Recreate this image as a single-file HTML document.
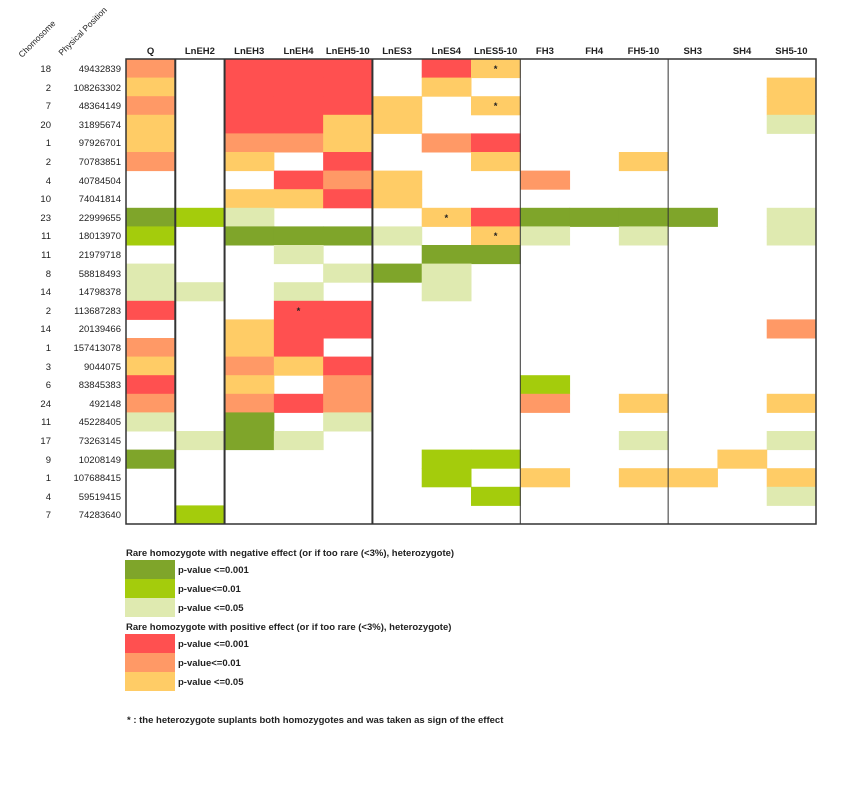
<!DOCTYPE html>
<html><head><meta charset="utf-8"><style>
body{margin:0;background:#fff;}
svg{display:block;font-family:"Liberation Sans",sans-serif;}
text{font-size:9.5px;fill:#222;}
</style></head><body>
<svg id="s" width="841" height="806" viewBox="0 0 841 806">
<g id="cells"></g>
<g text-anchor="middle" font-weight="bold">
<text x="150.6" y="54">Q</text><text x="199.9" y="54">LnEH2</text><text x="249.2" y="54">LnEH3</text><text x="298.5" y="54">LnEH4</text><text x="347.8" y="54">LnEH5-10</text><text x="397" y="54">LnES3</text><text x="446.3" y="54">LnES4</text><text x="495.6" y="54">LnES5-10</text><text x="544.9" y="54">FH3</text><text x="594.2" y="54">FH4</text><text x="643.5" y="54">FH5-10</text><text x="692.8" y="54">SH3</text><text x="742.1" y="54">SH4</text><text x="791.4" y="54">SH5-10</text>
</g>
<text x="22" y="58" transform="rotate(-45 22 58)" style="font-size:8.5px">Chomosome</text>
<text x="62" y="56" transform="rotate(-45 62 56)" style="font-size:8.5px">Physical Position</text>
<g id="leg">
<text x="126" y="556" font-weight="bold">Rare homozygote with negative effect (or if too rare (&lt;3%), heterozygote)</text>
<rect x="125" y="560" width="50" height="19" fill="#7fa52a"/>
<rect x="125" y="579" width="50" height="19" fill="#a4cc0c"/>
<rect x="125" y="598" width="50" height="19" fill="#dfeab0"/>
<text x="178" y="573" font-weight="bold">p-value &lt;=0.001</text>
<text x="178" y="592" font-weight="bold">p-value&lt;=0.01</text>
<text x="178" y="611" font-weight="bold">p-value &lt;=0.05</text>
<text x="126" y="630" font-weight="bold">Rare homozygote with positive effect (or if too rare (&lt;3%), heterozygote)</text>
<rect x="125" y="634" width="50" height="19" fill="#ff5050"/>
<rect x="125" y="653" width="50" height="19" fill="#ff9966"/>
<rect x="125" y="672" width="50" height="19" fill="#ffcc66"/>
<text x="178" y="647" font-weight="bold">p-value &lt;=0.001</text>
<text x="178" y="666" font-weight="bold">p-value&lt;=0.01</text>
<text x="178" y="685" font-weight="bold">p-value &lt;=0.05</text>
<text x="127" y="723" font-weight="bold">* : the heterozygote suplants both homozygotes and was taken as sign of the effect</text>
</g>
<g text-anchor="end">
<text x="51" y="72">18</text><text x="121" y="72">49432839</text>
<text x="51" y="91">2</text><text x="121" y="91">108263302</text>
<text x="51" y="109">7</text><text x="121" y="109">48364149</text>
<text x="51" y="128">20</text><text x="121" y="128">31895674</text>
<text x="51" y="146">1</text><text x="121" y="146">97926701</text>
<text x="51" y="165">2</text><text x="121" y="165">70783851</text>
<text x="51" y="184">4</text><text x="121" y="184">40784504</text>
<text x="51" y="202">10</text><text x="121" y="202">74041814</text>
<text x="51" y="221">23</text><text x="121" y="221">22999655</text>
<text x="51" y="239">11</text><text x="121" y="239">18013970</text>
<text x="51" y="258">11</text><text x="121" y="258">21979718</text>
<text x="51" y="277">8</text><text x="121" y="277">58818493</text>
<text x="51" y="295">14</text><text x="121" y="295">14798378</text>
<text x="51" y="314">2</text><text x="121" y="314">113687283</text>
<text x="51" y="332">14</text><text x="121" y="332">20139466</text>
<text x="51" y="351">1</text><text x="121" y="351">157413078</text>
<text x="51" y="370">3</text><text x="121" y="370">9044075</text>
<text x="51" y="388">6</text><text x="121" y="388">83845383</text>
<text x="51" y="407">24</text><text x="121" y="407">492148</text>
<text x="51" y="425">11</text><text x="121" y="425">45228405</text>
<text x="51" y="444">17</text><text x="121" y="444">73263145</text>
<text x="51" y="463">9</text><text x="121" y="463">10208149</text>
<text x="51" y="481">1</text><text x="121" y="481">107688415</text>
<text x="51" y="500">4</text><text x="121" y="500">59519415</text>
<text x="51" y="518">7</text><text x="121" y="518">74283640</text>
</g>
<g id="stars" text-anchor="middle" font-weight="bold">
<text x="495.6" y="72">*</text><text x="495.6" y="109">*</text><text x="446.3" y="221">*</text><text x="495.6" y="239">*</text><text x="298.5" y="314">*</text>
</g>
<g id="lines"></g>
</svg>
<script>
var C={R:"#ff5050",O:"#ff9966",Y:"#ffcc66",D:"#7fa52a",G:"#a4cc0c",L:"#dfeab0"};
var rows=[
"O.RRR.RY.....",
"Y.RRR.Y......Y",
"O.RRRY.Y.....Y",
"Y.RRYY.......L",
"Y.OOY.OR......",
"O.Y.R..Y..Y...",
"...ROY..O.....",
"..YYRY........",
"DGL...YRDDDD.L",
"G.DDDL.YL.L..L",
"...L..DD......",
"L...LDL.......",
"LL.L..L.......",
"R..RR.........",
"..YRR........O",
"O.YR..........",
"Y.OYR.........",
"R.Y.O...G.....",
"O.ORO...O.Y..Y",
"L.D.L.........",
".LDL......L..L",
"D.....GG....Y.",
"......G.Y.YY.Y",
".......G.....L",
".G............"];
var x0=126,w=(816-126)/14,y0=59,h=(524-59)/25,s="";
rows.forEach(function(r,i){for(var j=0;j<14;j++){var c=r[j];if(c&&C[c])s+='<rect x="'+(x0+j*w)+'" y="'+(y0+i*h)+'" width="'+(w+0.5)+'" height="'+(h+0.5)+'" fill="'+C[c]+'"/>';}});
document.getElementById("cells").innerHTML=s;
var l='<rect x="126" y="59" width="690" height="465" fill="none" stroke="#333" stroke-width="1.5"/>';
[[1,2],[2,2],[5,2],[8,1],[11,1]].forEach(function(a){var x=x0+a[0]*w;l+='<line x1="'+x+'" y1="59" x2="'+x+'" y2="524" stroke="#333" stroke-width="'+a[1]+'"/>';});
document.getElementById("lines").innerHTML=l;
</script>
</body></html>
